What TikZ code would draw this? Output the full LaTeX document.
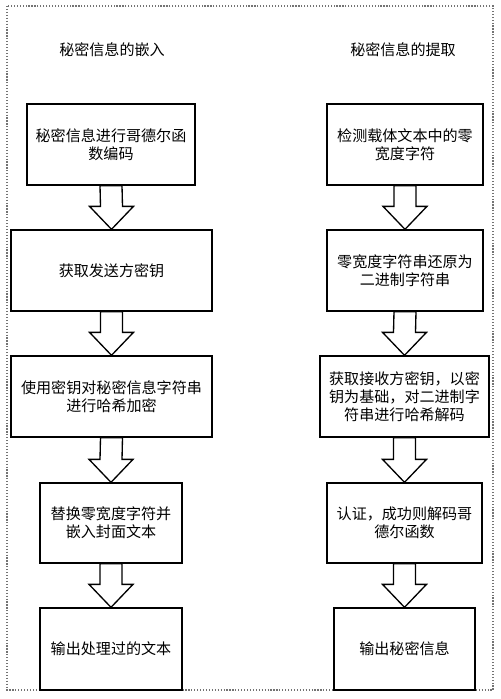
\documentclass[tikz,border=0pt]{standalone}
\usepackage{fontspec}
\setmainfont{Noto Sans CJK SC}
\usetikzlibrary{calc}
\tikzset{
  stepbox/.style={draw=black, line width=1pt, fill=white, align=center, inner sep=0pt,
    font=\fontsize{11.3}{13.6}\selectfont},
  ttl/.style={font=\fontsize{11.3}{13.6}\selectfont, inner sep=0pt},
  hollow/.style={draw=black, line width=1pt, fill=white, line join=miter},
  frame/.style={draw=black!55, line width=0.9pt, dash pattern=on 0.9pt off 1.3pt}
}
\newcommand\hollowarrow[2]{%
  \draw[hollow] ($(#1.south)+(-11,0)$) -- ($(#2.north)+(-11,-23)$) -- ($(#2.north)+(-22,-23)$)
    -- (#2.north) -- ($(#2.north)+(22,-23)$) -- ($(#2.north)+(11,-23)$) -- ($(#1.south)+(11,0)$) -- cycle;}
\begin{document}
\begin{tikzpicture}[x=0.75pt, y=-0.75pt]
\useasboundingbox (0,0) rectangle (500,699);
\draw[frame] (7,6) rectangle (493,690);

\node[ttl] (tl) at (112,50) {秘密信息的嵌入};
\node[ttl] (tr) at (403,50) {秘密信息的提取};

% left column
\node[stepbox, minimum width=126pt, minimum height=60.75pt] (l1) at (111,144.5) {秘密信息进行哥德尔函\\数编码};
\node[stepbox, minimum width=150.75pt, minimum height=60.75pt] (l2) at (111.5,270.5) {获取发送方密钥};
\node[stepbox, minimum width=150.75pt, minimum height=60.75pt] (l3) at (111.5,396.5) {使用密钥对秘密信息字符串\\进行哈希加密};
\node[stepbox, minimum width=106.5pt, minimum height=60pt] (l4) at (111,523) {替换零宽度字符并\\嵌入封面文本};
\node[stepbox, minimum width=106.5pt, minimum height=61.5pt] (l5) at (111,649) {输出处理过的文本};

% right column
\node[stepbox, minimum width=117pt, minimum height=60.75pt] (r1) at (405,144.5) {检测载体文本中的零\\宽度字符};
\node[stepbox, minimum width=117pt, minimum height=60.75pt] (r2) at (405,270.5) {零宽度字符串还原为\\二进制字符串};
\node[stepbox, minimum width=126.75pt, minimum height=60.75pt] (r3) at (404.5,396.5) {获取接收方密钥，以密\\钥为基础，对二进制字\\符串进行哈希解码};
\node[stepbox, minimum width=116.25pt, minimum height=60pt] (r4) at (404.5,523) {认证，成功则解码哥\\德尔函数};
\node[stepbox, minimum width=105.75pt, minimum height=61.5pt] (r5) at (404.5,649) {输出秘密信息};

\hollowarrow{l1}{l2}
\hollowarrow{l2}{l3}
\hollowarrow{l3}{l4}
\hollowarrow{l4}{l5}
\hollowarrow{r1}{r2}
\hollowarrow{r2}{r3}
\hollowarrow{r3}{r4}
\hollowarrow{r4}{r5}
\end{tikzpicture}
\end{document}
